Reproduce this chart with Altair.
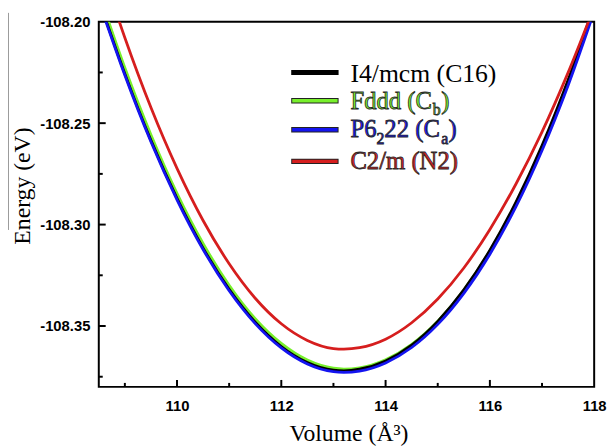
import altair as alt
import pandas as pd

# ---------------- data ----------------
series_names = ["I4/mcm (C16)", "Fddd (Cb)", "P6222 (Ca)", "C2/m (N2)"]
series_colors = ["#000000", "#78f02c", "#1414f0", "#d61e1e"]

volume = [108.6, 109.0, 109.5, 110.0, 110.5, 111.0, 111.5, 112.0, 112.5, 113.0, 113.2,
          113.5, 114.0, 114.5, 115.0, 115.5, 116.0, 116.5, 117.0, 117.5, 118.0]

en_black = [-108.1965, -108.2257, -108.2585, -108.2871, -108.3116, -108.3319, -108.3481,
            -108.3601, -108.3680, -108.3718, -108.3721, -108.3713, -108.3672, -108.3594,
            -108.3477, -108.3322, -108.3126, -108.2889, -108.2610, -108.2287, -108.1919]

en_green = [-108.1933, -108.2227, -108.2557, -108.2846, -108.3093, -108.3299, -108.3464,
            -108.3586, -108.3668, -108.3708, -108.3712, -108.3706, -108.3666, -108.3590,
            -108.3476, -108.3323, -108.3130, -108.2896, -108.2619, -108.2298, -108.1933]

en_blue = [-108.1972, -108.2264, -108.2592, -108.2878, -108.3123, -108.3326, -108.3488,
           -108.3608, -108.3687, -108.3725, -108.3728, -108.3722, -108.3682, -108.3606,
           -108.3492, -108.3339, -108.3146, -108.2912, -108.2635, -108.2314, -108.1949]

en_red = [-108.1773, -108.2079, -108.2423, -108.2723, -108.2980, -108.3193, -108.3363,
          -108.3489, -108.3571, -108.3611, -108.3614, -108.3607, -108.3565, -108.3484,
          -108.3367, -108.3214, -108.3024, -108.2800, -108.2543, -108.2251, -108.1927]

x_label_values = [110, 112, 114, 116, 118]
x_major_ticks = [110, 112, 114, 116]
x_minor_ticks = [109, 111, 113, 115, 117]
y_label_values = [-108.20, -108.25, -108.30, -108.35]
y_major_ticks = [-108.25, -108.30, -108.35]
y_minor_ticks = [-108.225, -108.275, -108.325, -108.375]

# ---------------- build table ----------------
rows = []
for name, es in [
    (series_names[0], en_black),
    (series_names[1], en_green),
    (series_names[2], en_blue),
    (series_names[3], en_red),
]:
    for v, e in zip(volume, es):
        rows.append({"series": name, "volume": v, "energy": e})
df = pd.DataFrame(rows)

W, H = 502, 370
xs = alt.Scale(domain=[108.5, 118], nice=False, zero=False)
ys = alt.Scale(domain=[-108.38, -108.20], nice=False, zero=False)

x_axis = alt.Axis(
    values=x_label_values, format="d", ticks=False, tickSize=0, domain=False, grid=False,
    labelPadding=11.5, labelFlush=False, labelOverlap=False,
    title="Volume (Å³)", titleX=253, titleY=54,
    titleBaseline="alphabetic", titleAlign="center",
)
y_axis = alt.Axis(
    values=y_label_values, labelExpr="'-' + format(abs(datum.value), '.2f')",
    ticks=False, tickSize=0, domain=False, grid=False,
    labelPadding=9, labelOverlap=False, labelFlush=False,
    title="Energy (eV)", titleX=-70, titleY=166,
    titleAngle=270, titleBaseline="alphabetic", titleAlign="center",
)


def line_layer(idx):
    return alt.Chart(df).transform_filter(
        alt.datum.series == series_names[idx]
    ).mark_line(
        color=series_colors[idx], strokeWidth=2.8, interpolate="monotone", clip=True
    ).encode(
        x=alt.X("volume:Q", scale=xs, axis=x_axis),
        y=alt.Y("energy:Q", scale=ys, axis=y_axis),
        order="volume:Q",
    )


# draw order: green, black, blue, red
lines = [line_layer(1), line_layer(0), line_layer(2), line_layer(3)]

# inward ticks
xmaj = alt.Chart(pd.DataFrame({"volume": x_major_ticks})).mark_rule(color="black", strokeWidth=2).encode(
    x=alt.X("volume:Q", scale=xs, axis=x_axis), y=alt.value(H), y2=alt.value(H - 7))
xmin = alt.Chart(pd.DataFrame({"volume": x_minor_ticks})).mark_rule(color="black", strokeWidth=2).encode(
    x=alt.X("volume:Q", scale=xs, axis=x_axis), y=alt.value(H), y2=alt.value(H - 4))
ymaj = alt.Chart(pd.DataFrame({"energy": y_major_ticks})).mark_rule(color="black", strokeWidth=2).encode(
    y=alt.Y("energy:Q", scale=ys, axis=y_axis), x=alt.value(0), x2=alt.value(7))
ymin = alt.Chart(pd.DataFrame({"energy": y_minor_ticks})).mark_rule(color="black", strokeWidth=2).encode(
    y=alt.Y("energy:Q", scale=ys, axis=y_axis), x=alt.value(0), x2=alt.value(4))

# ---------------- manual legend ----------------
one = pd.DataFrame({"k": [0]})
leg_line_y = [51.5, 80, 109.5, 141.5]
leg_layers = []
for i in range(4):
    if i > 0:
        leg_layers.append(alt.Chart(one).mark_rule(color="#222222", strokeWidth=5.5).encode(
            x=alt.value(195), x2=alt.value(243), y=alt.value(leg_line_y[i])))
        leg_layers.append(alt.Chart(one).mark_rule(color=series_colors[i], strokeWidth=3.5).encode(
            x=alt.value(196), x2=alt.value(242), y=alt.value(leg_line_y[i])))
    else:
        leg_layers.append(alt.Chart(one).mark_rule(color="black", strokeWidth=5).encode(
            x=alt.value(195), x2=alt.value(243), y=alt.value(leg_line_y[i])))


def seg(txt, x, y, color, size=25, outline=True):
    kw = dict(align="left", baseline="alphabetic", font="Liberation Serif",
              fontSize=size, color=color)
    if outline:
        kw.update(stroke="#2a2a2a", strokeWidth=0.8)
    return alt.Chart(one).mark_text(**kw).encode(
        text=alt.value(txt), x=alt.value(x), y=alt.value(y))


leg_layers += [
    seg("I4/mcm (C16)", 255, 61, "black", size=26, outline=False),
    seg("Fddd (C", 255, 88, series_colors[1]),
    seg("b", 338.5, 95, series_colors[1], size=16),
    seg(")", 347, 88, series_colors[1]),
    seg("P6", 255, 117, series_colors[2]),
    seg("2", 281.4, 124, series_colors[2], size=16),
    seg("22 (C", 289.4, 117, series_colors[2]),
    seg("a", 347, 124, series_colors[2], size=16),
    seg(")", 354.5, 117, series_colors[2]),
    seg("C2/m (N2)", 255, 149, series_colors[3]),
]

# faint vertical line at far left of the original figure
artifact = alt.Chart(one).mark_rule(color="#999999", strokeWidth=1).encode(
    x=alt.value(-91.5), y=alt.value(-9), y2=alt.value(211))

chart = alt.layer(
    *lines, xmaj, xmin, ymaj, ymin, *leg_layers, artifact
).properties(
    width=W, height=H,
    autosize=alt.AutoSizeParams(type="none"),
    padding={"left": 92, "top": 11, "right": 13, "bottom": 57},
    background="white",
).configure_view(
    stroke="black", strokeWidth=2
).configure_axis(
    labelFont="Liberation Sans", labelFontWeight="bold", labelFontSize=15, labelColor="black",
    titleFont="Liberation Serif", titleFontSize=24, titleFontWeight="normal", titleColor="black",
)

chart.save("out.html", embed_options={"renderer": "svg", "actions": False})
